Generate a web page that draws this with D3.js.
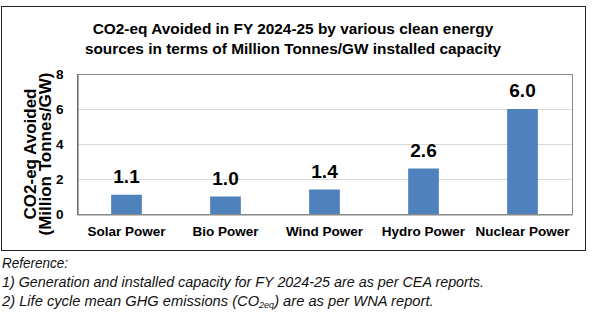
<!DOCTYPE html>
<html>
<head>
<meta charset="utf-8">
<script src="https://cdn.jsdelivr.net/npm/d3@7"></script>
<style>
  body { margin: 0; background: #fff; }
  svg { display: block; font-family: Arial, "Liberation Sans", sans-serif; }
  .tick text { font-weight: bold; font-size: 13.5px; fill: #000; }
  .note { font-family: "Liberation Sans Narrow", "Arial Narrow", "Liberation Sans", sans-serif; font-style: italic; font-size: 15px; fill: #111; }
</style>
</head>
<body>
<div id="chart"></div>
<script>
// CO2-eq avoided per GW of installed capacity, FY 2024-25
const sources = ["Solar Power", "Bio Power", "Wind Power", "Hydro Power", "Nuclear Power"];
const avoided = [1.1, 1.0, 1.4, 2.6, 6.0];
const yTicks = [0, 2, 4, 6, 8];
const titleLines = [
  "CO2-eq Avoided in FY 2024-25 by various clean energy",
  "sources in terms of Million Tonnes/GW installed capacity"
];
const yTitleLines = ["CO2-eq Avoided", "(Million Tonnes/GW)"];

const width = 593, height = 323;
const plot = { left: 77, right: 572, top: 74, bottom: 214 };

const svg = d3.select("#chart").append("svg")
  .attr("width", width)
  .attr("height", height);

// outer frame around the chart block
svg.append("rect")
  .attr("x", 1.5).attr("y", 6.5)
  .attr("width", 584).attr("height", 244)
  .attr("fill", "none")
  .attr("stroke", "#222")
  .attr("stroke-width", 1);

// title
svg.append("g")
  .selectAll("text")
  .data(titleLines)
  .join("text")
  .attr("x", 293)
  .attr("y", (d, i) => 34 + i * 20)
  .attr("text-anchor", "middle")
  .attr("font-weight", "bold")
  .attr("font-size", "15.4px")
  .text(d => d);

// scales
const xScale = d3.scaleBand()
  .domain(sources)
  .range([plot.left, plot.right])
  .paddingInner(0.69)
  .paddingOuter(0.345);

const yScale = d3.scaleLinear()
  .domain([0, 8])
  .range([plot.bottom, plot.top]);

// gridlines
svg.append("g")
  .attr("class", "grid")
  .selectAll("line")
  .data(yTicks.filter(d => d > 0 && d < 8))
  .join("line")
  .attr("x1", plot.left).attr("x2", plot.right)
  .attr("y1", d => yScale(d) + 0.5).attr("y2", d => yScale(d) + 0.5)
  .attr("stroke", "#d9d9d9");

// plot border
svg.append("rect")
  .attr("x", plot.left + 0.5).attr("y", plot.top + 0.5)
  .attr("width", plot.right - plot.left).attr("height", plot.bottom - plot.top)
  .attr("fill", "none")
  .attr("stroke", "#888");

// bars
svg.append("g")
  .selectAll("rect")
  .data(avoided)
  .join("rect")
  .attr("x", (d, i) => xScale(sources[i]))
  .attr("y", d => yScale(d))
  .attr("width", xScale.bandwidth())
  .attr("height", d => yScale(0) - yScale(d))
  .attr("fill", "#4f81bd");

// value labels
svg.append("g")
  .selectAll("text")
  .data(avoided)
  .join("text")
  .attr("x", (d, i) => xScale(sources[i]) + xScale.bandwidth() / 2)
  .attr("y", d => yScale(d) - 12)
  .attr("text-anchor", "middle")
  .attr("font-weight", "bold")
  .attr("font-size", "19px")
  .text(d => d3.format(".1f")(d));

// axes
const yAxis = d3.axisLeft(yScale).tickValues(yTicks).tickSize(0).tickPadding(14);
svg.append("g")
  .attr("class", "axis-y")
  .attr("transform", `translate(${plot.left + 0.5},0)`)
  .call(yAxis)
  .call(g => g.select(".domain").attr("stroke", "#555"));

const xAxis = d3.axisBottom(xScale).tickSize(0).tickPadding(12);
svg.append("g")
  .attr("class", "axis-x")
  .attr("transform", `translate(0,${plot.bottom + 0.5})`)
  .call(xAxis)
  .call(g => g.select(".domain").attr("stroke", "#888"));

// y axis title
svg.append("g")
  .attr("transform", "translate(0,154) rotate(-90)")
  .selectAll("text")
  .data(yTitleLines)
  .join("text")
  .attr("x", 0)
  .attr("y", (d, i) => 36 + i * 15)
  .attr("text-anchor", "middle")
  .attr("font-weight", "bold")
  .attr("font-size", "17px")
  .text(d => d);

// reference notes below the frame
const notes = svg.append("g");
notes.append("text").attr("class", "note").attr("x", 2).attr("y", 268)
  .attr("textLength", 66).attr("lengthAdjust", "spacingAndGlyphs")
  .text("Reference:");
notes.append("text").attr("class", "note").attr("x", 2).attr("y", 287)
  .attr("textLength", 482).attr("lengthAdjust", "spacingAndGlyphs")
  .text("1) Generation and installed capacity for FY 2024-25 are as per CEA reports.");
const n2 = notes.append("text").attr("class", "note").attr("x", 2).attr("y", 306)
  .style("font-size", "14.7px");
n2.append("tspan").text("2) Life cycle mean GHG emissions (CO");
n2.append("tspan").attr("font-size", "9px").attr("dy", 2).text("2eq");
n2.append("tspan").attr("dy", -2).text(") are as per WNA report.");
</script>
</body>
</html>
